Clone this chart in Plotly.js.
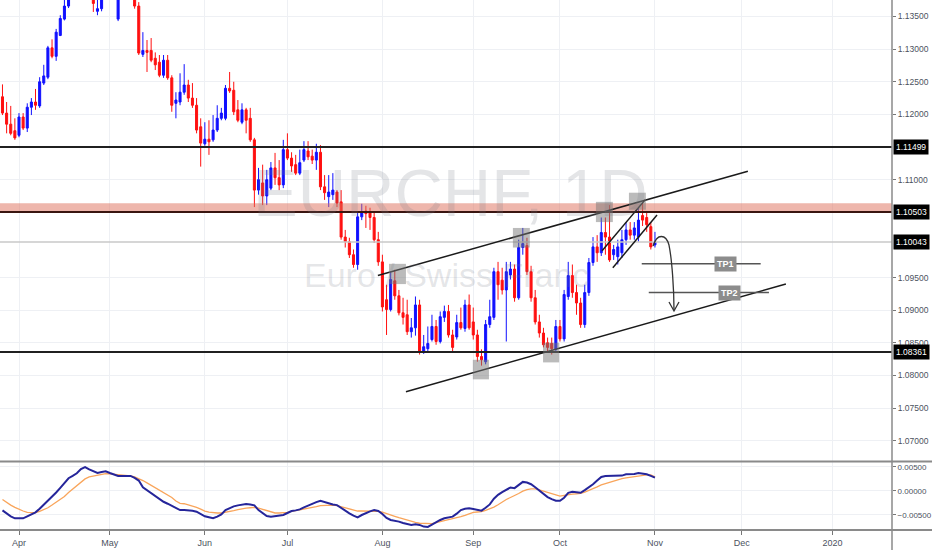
<!DOCTYPE html>
<html>
<head>
<meta charset="utf-8">
<script src="https://cdn.plot.ly/plotly-3.0.1.min.js"></script>
<style>
  html, body { margin: 0; padding: 0; background: #ffffff; }
  #chart { width: 932px; height: 550px; }
</style>
</head>
<body>
<div id="chart"></div>
<script>
// EURCHF daily candles, 26 Mar 2019 .. 1 Nov 2019
const firstDay = '2019-03-26';

const openPx = [
  1.1227, 1.1202, 1.1185, 1.1175, 1.1168, 1.1196, 1.1179, 1.1211, 1.1219, 1.1213,
  1.1248, 1.1257, 1.1302, 1.1289, 1.1321, 1.1346, 1.1366, 1.1390, 1.1415, 1.1440,
  1.1425, 1.1460, 1.1432, 1.1358, 1.1362, 1.1400, 1.1420, 1.1398, 1.1346, 1.1400,
  1.1390, 1.1405, 1.1395, 1.1366, 1.1292, 1.1298, 1.1298, 1.1286, 1.1280, 1.1260,
  1.1283, 1.1256, 1.1217, 1.1219, 1.1234, 1.1245, 1.1225, 1.1214, 1.1181, 1.1155,
  1.1162, 1.1161, 1.1176, 1.1194, 1.1194, 1.1240, 1.1237, 1.1207, 1.1188, 1.1207,
  1.1194, 1.1161, 1.1084, 1.1095, 1.1075, 1.1087, 1.1118, 1.1103, 1.1092, 1.1146,
  1.1133, 1.1123, 1.1110, 1.1130, 1.1144, 1.1136, 1.1130, 1.1142, 1.1089, 1.1074,
  1.1077, 1.1081, 1.1066, 1.1012, 1.1005, 1.0985, 1.0970, 1.1043, 1.1052, 1.1051,
  1.1042, 1.1008, 1.0974, 1.0916, 1.0901, 1.0945, 1.0922, 1.0896, 1.0893, 1.0867,
  1.0873, 1.0908, 1.0836, 1.0841, 1.0855, 1.0875, 1.0852, 1.0889, 1.0898, 1.0862,
  1.0859, 1.0881, 1.0872, 1.0908, 1.0882, 1.0862, 1.0829, 1.0821, 1.0878, 1.0889,
  1.0959, 1.0946, 1.0931, 1.0954, 1.0963, 1.0919, 1.0996, 1.0999, 1.0959, 1.0919,
  1.0882, 1.0865, 1.0850, 1.0849, 1.0840, 1.0875, 1.0856, 1.0921, 1.0953, 1.0927,
  1.0911, 1.0878, 1.0927, 1.0973, 1.0997, 1.0988, 1.1019, 1.1012, 1.0985, 1.0982,
  1.0988, 1.1008, 1.1023, 1.1015, 1.1012, 1.1045, 1.1042, 1.1028, 1.1000
];
const highPx = [
  1.1246, 1.1219, 1.1213, 1.1194, 1.1202, 1.1202, 1.1217, 1.1225, 1.1239, 1.1257,
  1.1276, 1.1305, 1.1315, 1.1331, 1.1352, 1.1378, 1.1405, 1.1422, 1.1450, 1.1455,
  1.1468, 1.1474, 1.1440, 1.1385, 1.1410, 1.1430, 1.1428, 1.1405, 1.1410, 1.1412,
  1.1415, 1.1418, 1.1408, 1.1372, 1.1326, 1.1314, 1.1317, 1.1295, 1.1291, 1.1291,
  1.1291, 1.1260, 1.1234, 1.1263, 1.1277, 1.1253, 1.1248, 1.1225, 1.1194, 1.1188,
  1.1191, 1.1199, 1.1214, 1.1210, 1.1245, 1.1265, 1.1250, 1.1222, 1.1217, 1.1210,
  1.1210, 1.1164, 1.1118, 1.1123, 1.1115, 1.1127, 1.1141, 1.1130, 1.1161, 1.1171,
  1.1142, 1.1138, 1.1146, 1.1159, 1.1159, 1.1146, 1.1155, 1.1153, 1.1107, 1.1107,
  1.1110, 1.1084, 1.1084, 1.1023, 1.1011, 1.0993, 1.1051, 1.1063, 1.1060, 1.1057,
  1.1051, 1.1020, 1.0985, 1.0939, 1.0959, 1.0962, 1.0931, 1.0919, 1.0916, 1.0888,
  1.0921, 1.0916, 1.0862, 1.0875, 1.0893, 1.0885, 1.0898, 1.0907, 1.0908, 1.0870,
  1.0893, 1.0904, 1.0916, 1.0924, 1.0904, 1.0870, 1.0840, 1.0885, 1.0916, 1.0965,
  1.0974, 1.0965, 1.0974, 1.0974, 1.0970, 1.1008, 1.1026, 1.1011, 1.0968, 1.0931,
  1.0893, 1.0873, 1.0858, 1.0858, 1.0885, 1.0885, 1.0931, 1.0974, 1.0970, 1.0939,
  1.0919, 1.0939, 1.0980, 1.1012, 1.1015, 1.1042, 1.1042, 1.1061, 1.1000, 1.1008,
  1.1023, 1.1035, 1.1035, 1.1035, 1.1057, 1.1064, 1.1051, 1.1035, 1.1020
];
const lowPx = [
  1.1199, 1.1171, 1.1168, 1.1161, 1.1165, 1.1176, 1.1173, 1.1199, 1.1207, 1.1210,
  1.1245, 1.1254, 1.1286, 1.1282, 1.1320, 1.1344, 1.1363, 1.1385, 1.1408, 1.1418,
  1.1420, 1.1425, 1.1357, 1.1352, 1.1358, 1.1392, 1.1390, 1.1376, 1.1343, 1.1383,
  1.1385, 1.1388, 1.1362, 1.1291, 1.1288, 1.1265, 1.1280, 1.1268, 1.1257, 1.1256,
  1.1253, 1.1204, 1.1194, 1.1214, 1.1230, 1.1219, 1.1210, 1.1171, 1.1120, 1.1152,
  1.1138, 1.1158, 1.1173, 1.1191, 1.1191, 1.1233, 1.1199, 1.1188, 1.1185, 1.1171,
  1.1158, 1.1058, 1.1077, 1.1061, 1.1061, 1.1084, 1.1092, 1.1084, 1.1087, 1.1130,
  1.1112, 1.1107, 1.1107, 1.1127, 1.1130, 1.1124, 1.1115, 1.1084, 1.1069, 1.1058,
  1.1069, 1.1058, 1.1008, 1.0996, 1.0980, 1.0965, 1.0962, 1.1038, 1.1026, 1.1023,
  1.1003, 1.0968, 1.0898, 1.0862, 1.0898, 1.0916, 1.0892, 1.0878, 1.0862, 1.0858,
  1.0861, 1.0832, 1.0833, 1.0836, 1.0852, 1.0847, 1.0849, 1.0882, 1.0858, 1.0836,
  1.0855, 1.0870, 1.0867, 1.0870, 1.0855, 1.0821, 1.0815, 1.0817, 1.0873, 1.0885,
  1.0916, 1.0924, 1.0852, 1.0947, 1.0913, 1.0916, 1.0985, 1.0954, 1.0913, 1.0878,
  1.0858, 1.0843, 1.0836, 1.0832, 1.0836, 1.0852, 1.0852, 1.0916, 1.0919, 1.0893,
  1.0873, 1.0873, 1.0922, 1.0968, 1.0974, 1.0983, 1.0985, 1.0974, 1.0977, 1.0970,
  1.0980, 1.1000, 1.1008, 1.1008, 1.1005, 1.1029, 1.1020, 1.0993, 1.0996
];
const closePx = [
  1.1202, 1.1185, 1.1171, 1.1164, 1.1196, 1.1179, 1.1211, 1.1219, 1.1214, 1.1250,
  1.1259, 1.1302, 1.1289, 1.1326, 1.1347, 1.1366, 1.1390, 1.1415, 1.1440, 1.1425,
  1.1460, 1.1432, 1.1370, 1.1362, 1.1400, 1.1420, 1.1398, 1.1380, 1.1400, 1.1390,
  1.1405, 1.1395, 1.1366, 1.1294, 1.1298, 1.1295, 1.1283, 1.1276, 1.1260, 1.1283,
  1.1256, 1.1214, 1.1222, 1.1234, 1.1245, 1.1225, 1.1214, 1.1176, 1.1156, 1.1162,
  1.1158, 1.1176, 1.1194, 1.1202, 1.1240, 1.1236, 1.1204, 1.1191, 1.1207, 1.1191,
  1.1161, 1.1084, 1.1100, 1.1075, 1.1100, 1.1118, 1.1103, 1.1092, 1.1146, 1.1133,
  1.1121, 1.1110, 1.1126, 1.1146, 1.1135, 1.1130, 1.1142, 1.1089, 1.1080, 1.1081,
  1.1084, 1.1064, 1.1012, 1.1005, 1.0985, 1.0970, 1.1043, 1.1051, 1.1048, 1.1042,
  1.1008, 1.0974, 1.0905, 1.0901, 1.0947, 1.0922, 1.0896, 1.0889, 1.0867, 1.0873,
  1.0908, 1.0836, 1.0844, 1.0849, 1.0875, 1.0852, 1.0890, 1.0898, 1.0862, 1.0843,
  1.0881, 1.0873, 1.0908, 1.0873, 1.0862, 1.0829, 1.0824, 1.0878, 1.0890, 1.0959,
  1.0939, 1.0931, 1.0959, 1.0963, 1.0919, 1.0996, 1.1002, 1.0959, 1.0919, 1.0882,
  1.0865, 1.0847, 1.0843, 1.0841, 1.0875, 1.0856, 1.0924, 1.0953, 1.0927, 1.0911,
  1.0878, 1.0927, 1.0973, 1.0997, 1.0988, 1.1019, 1.1012, 1.0977, 1.0993, 1.0997,
  1.1008, 1.1023, 1.1015, 1.1026, 1.1038, 1.1038, 1.1031, 1.0997, 1.10043
];

// MACD panel, one value per candle
const macdLine = [
  -0.00406, -0.00467, -0.00529, -0.00570, -0.00577, -0.00570, -0.00529, -0.00488, -0.00447, -0.00371,
  -0.00289, -0.00199, -0.00117, -0.00034, 0.00062, 0.00158, 0.00261, 0.00309, 0.00364, 0.00453,
  0.00494, 0.00446, 0.00405, 0.00371, 0.00391, 0.00405, 0.00371, 0.00343, 0.00309, 0.00309,
  0.00309, 0.00309, 0.00268, 0.00213, 0.00075, 0.00014, -0.00055, -0.00117, -0.00172, -0.00227,
  -0.00268, -0.00309, -0.00357, -0.00399, -0.00399, -0.00399, -0.00412, -0.00433, -0.00488, -0.00529,
  -0.00550, -0.00570, -0.00536, -0.00488, -0.00399, -0.00357, -0.00323, -0.00302, -0.00289, -0.00275,
  -0.00282, -0.00302, -0.00399, -0.00460, -0.00522, -0.00536, -0.00529, -0.00515, -0.00502, -0.00460,
  -0.00419, -0.00406, -0.00385, -0.00344, -0.00302, -0.00261, -0.00234, -0.00206, -0.00234, -0.00261,
  -0.00282, -0.00296, -0.00357, -0.00412, -0.00467, -0.00515, -0.00550, -0.00502, -0.00460, -0.00426,
  -0.00399, -0.00419, -0.00481, -0.00563, -0.00605, -0.00618, -0.00639, -0.00667, -0.00687, -0.00708,
  -0.00694, -0.00708, -0.00742, -0.00749, -0.00701, -0.00646, -0.00605, -0.00570, -0.00557, -0.00536,
  -0.00474, -0.00399, -0.00371, -0.00364, -0.00378, -0.00399, -0.00412, -0.00351, -0.00282, -0.00165,
  -0.00083, -0.00028, 0.00027, 0.00069, 0.00055, 0.00117, 0.00185, 0.00172, 0.00137, 0.00075,
  0.00007, -0.00062, -0.00131, -0.00172, -0.00206, -0.00206, -0.00144, -0.00041, -0.00021, -0.00028,
  -0.00041, 0.00014, 0.00069, 0.00137, 0.00213, 0.00288, 0.00309, 0.00309, 0.00309, 0.00309,
  0.00316, 0.00343, 0.00343, 0.00350, 0.00371, 0.00364, 0.00343, 0.00309, 0.00275
];
const signalLine = [
  -0.00179, -0.00241, -0.00296, -0.00344, -0.00385, -0.00419, -0.00447, -0.00454, -0.00454, -0.00426,
  -0.00392, -0.00351, -0.00296, -0.00241, -0.00186, -0.00117, -0.00034, 0.00034, 0.00110, 0.00178,
  0.00247, 0.00288, 0.00309, 0.00323, 0.00336, 0.00357, 0.00350, 0.00343, 0.00343, 0.00330,
  0.00323, 0.00309, 0.00288, 0.00254, 0.00213, 0.00165, 0.00117, 0.00062, 0.00014, -0.00034,
  -0.00089, -0.00138, -0.00213, -0.00261, -0.00268, -0.00289, -0.00316, -0.00344, -0.00378, -0.00419,
  -0.00440, -0.00454, -0.00460, -0.00460, -0.00447, -0.00426, -0.00412, -0.00392, -0.00371, -0.00357,
  -0.00351, -0.00344, -0.00357, -0.00385, -0.00419, -0.00440, -0.00460, -0.00460, -0.00454, -0.00447,
  -0.00426, -0.00412, -0.00399, -0.00385, -0.00371, -0.00351, -0.00330, -0.00309, -0.00302, -0.00296,
  -0.00296, -0.00309, -0.00330, -0.00351, -0.00371, -0.00399, -0.00419, -0.00419, -0.00419, -0.00419,
  -0.00419, -0.00426, -0.00440, -0.00474, -0.00502, -0.00529, -0.00557, -0.00584, -0.00605, -0.00625,
  -0.00653, -0.00673, -0.00680, -0.00687, -0.00680, -0.00660, -0.00639, -0.00625, -0.00605, -0.00591,
  -0.00563, -0.00536, -0.00509, -0.00474, -0.00447, -0.00440, -0.00433, -0.00406, -0.00378, -0.00337,
  -0.00289, -0.00227, -0.00179, -0.00138, -0.00103, -0.00055, -0.00007, 0.00027, 0.00041, 0.00041,
  0.00020, -0.00007, -0.00034, -0.00069, -0.00089, -0.00110, -0.00096, -0.00076, -0.00069, -0.00062,
  -0.00055, -0.00028, 0.00007, 0.00034, 0.00082, 0.00124, 0.00151, 0.00185, 0.00213, 0.00233,
  0.00254, 0.00268, 0.00282, 0.00295, 0.00309, 0.00323, 0.00330, 0.00330, 0.00288
];

const monthTicks = ['2019-04-01', '2019-05-01', '2019-06-03', '2019-07-01', '2019-08-01',
                    '2019-09-02', '2019-10-01', '2019-11-01', '2019-12-02', '2020-01-01'];
const monthLabels = ['Apr', 'May', 'Jun', 'Jul', 'Aug', 'Sep', 'Oct', 'Nov', 'Dec', '2020'];
const priceTicks = [1.07, 1.075, 1.08, 1.085, 1.09, 1.095, 1.11, 1.12, 1.125, 1.13, 1.135];
const macdTicks = [-0.005, 0, 0.005];

// levels drawn on the chart
const levelLines = [1.11499, 1.10503, 1.08361];
const lastPrice = 1.10043;
const tagLevels = [1.11499, 1.10503, 1.10043, 1.08361];
const tagTexts = ['1.11499', '1.10503', '1.10043', '1.08361'];

// weekdays only, like the forex feed
function tradingDays(start, n) {
    const out = [];
    const d = new Date(start + 'T00:00:00Z');
    while (out.length < n) {
        const wd = d.getUTCDay();
        if (wd !== 0 && wd !== 6) out.push(d.toISOString().slice(0, 10));
        d.setUTCDate(d.getUTCDate() + 1);
    }
    return out;
}
const dates = tradingDays(firstDay, closePx.length);

const axisFont = { family: 'Liberation Sans, Arial, sans-serif', size: 8.5, color: '#4c525e' };
const gridCol = '#eef0f4';

const traces = [
    {
        type: 'candlestick', x: dates, open: openPx, high: highPx, low: lowPx, close: closePx,
        xaxis: 'x', yaxis: 'y', whiskerwidth: 0,
        increasing: { line: { color: '#1010ff', width: 1 }, fillcolor: '#1010ff' },
        decreasing: { line: { color: '#ff1010', width: 1 }, fillcolor: '#ff1010' },
        hoverinfo: 'skip'
    },
    {
        type: 'scatter', mode: 'lines', x: dates, y: signalLine, xaxis: 'x', yaxis: 'y2',
        line: { color: '#f9a55b', width: 1.3 }, hoverinfo: 'skip'
    },
    {
        type: 'scatter', mode: 'lines', x: dates, y: macdLine, xaxis: 'x', yaxis: 'y2',
        line: { color: '#25259a', width: 2 }, hoverinfo: 'skip'
    }
];

const shapes = [];
// resistance band
shapes.push({ type: 'rect', xref: 'paper', yref: 'y', x0: 0, x1: 1, y0: 1.10503, y1: 1.1064,
    fillcolor: 'rgba(222,110,90,0.5)', line: { width: 0 } });
// last price line
shapes.push({ type: 'line', xref: 'paper', yref: 'y', x0: 0, x1: 1, y0: lastPrice, y1: lastPrice,
    line: { color: '#c9c9c9', width: 1.5 } });
levelLines.forEach(v => {
    shapes.push({ type: 'line', xref: 'paper', yref: 'y', x0: 0, x1: 1, y0: v, y1: v,
        line: { color: v === 1.10503 ? '#3a1510' : '#202020', width: 2 } });
});

// channel and wedge lines
const trend = [
    ['2019-07-30 21:36', 1.0953, '2019-12-03 12:00', 1.1113],
    ['2019-08-08 16:48', 1.0775, '2019-12-16 16:48', 1.0940],
    ['2019-10-15 04:48', 1.0991, '2019-10-29 14:24', 1.1069],
    ['2019-10-17 19:12', 1.0965, '2019-11-01 12:00', 1.1046]
];
trend.forEach(t => {
    shapes.push({ type: 'line', xref: 'x', yref: 'y', x0: t[0], y0: t[1], x1: t[2], y1: t[3],
        line: { color: '#1a1a1a', width: 1.5 } });
});

// take profit levels
shapes.push({ type: 'line', xref: 'x', yref: 'y', x0: '2019-10-28 19:12', x1: '2019-12-06 14:24',
    y0: 1.0971, y1: 1.0971, line: { color: '#555555', width: 1.5 } });
shapes.push({ type: 'line', xref: 'x', yref: 'y', x0: '2019-10-30 12:00', x1: '2019-12-10 14:24',
    y0: 1.0927, y1: 1.0927, line: { color: '#555555', width: 1.5 } });

// highlighted touches
const boxes = [
    ['2019-08-02 14:24', '2019-08-08 16:48', 1.0940, 1.0971],
    ['2019-09-13 14:24', '2019-09-19 16:48', 1.0996, 1.1026],
    ['2019-08-30 21:36', '2019-09-05 19:12', 1.0794, 1.0824],
    ['2019-09-24 21:36', '2019-09-30 19:12', 1.0820, 1.0850],
    ['2019-10-11 16:48', '2019-10-17 19:12', 1.1035, 1.1066],
    ['2019-10-23 16:48', '2019-10-29 19:12', 1.1054, 1.1080]
];
boxes.forEach(b => {
    shapes.push({ type: 'rect', xref: 'x', yref: 'y', x0: b[0], x1: b[1], y0: b[2], y1: b[3],
        fillcolor: 'rgba(120,120,120,0.5)', line: { width: 0 } });
});

// curved arrow towards the lower channel line
shapes.push({ type: 'path', xref: 'paper', yref: 'paper',
    path: 'M 0.7321 0.5358 C 0.7366 0.5604, 0.7466 0.5585, 0.7500 0.5377 C 0.7534 0.5094, 0.7556 0.4528, 0.7556 0.4151',
    line: { color: '#333333', width: 1.3 } });
shapes.push({ type: 'path', xref: 'paper', yref: 'paper',
    path: 'M 0.7500 0.4302 L 0.7556 0.4132 L 0.7612 0.4302',
    line: { color: '#333333', width: 1.3 } });

// pane borders
shapes.push({ type: 'line', xref: 'paper', yref: 'paper', x0: 0, x1: 1.045, y0: 0.1292, y1: 0.1292,
    line: { color: '#8a8a8a', width: 2 } });
shapes.push({ type: 'line', xref: 'paper', yref: 'paper', x0: 0, x1: 1.045, y0: 0, y1: 0,
    line: { color: '#8a8a8a', width: 2 } });
shapes.push({ type: 'line', xref: 'paper', yref: 'paper', x0: 1, x1: 1, y0: -0.04, y1: 1,
    line: { color: '#8a8a8a', width: 1.5 } });

const annotations = [
    { xref: 'paper', yref: 'paper', x: 0.505, y: 0.636, xanchor: 'center', yanchor: 'middle',
      text: 'EURCHF, 1D', showarrow: false,
      font: { family: 'Liberation Sans, Arial', size: 67, color: 'rgba(120,123,134,0.2)' } },
    { xref: 'paper', yref: 'paper', x: 0.5, y: 0.481, xanchor: 'center', yanchor: 'middle',
      text: 'Euro / Swiss Franc', showarrow: false,
      font: { family: 'Liberation Sans, Arial', size: 34, color: 'rgba(120,123,134,0.2)' } },
    { xref: 'x', yref: 'y', x: '2019-11-26', y: 1.0971, text: '<b>TP1</b>', showarrow: false,
      bgcolor: '#8c8c8c', borderpad: 2, font: { family: 'Liberation Sans, Arial', size: 9, color: '#ffffff' } },
    { xref: 'x', yref: 'y', x: '2019-11-27', y: 1.0927, text: '<b>TP2</b>', showarrow: false,
      bgcolor: '#8c8c8c', borderpad: 2, font: { family: 'Liberation Sans, Arial', size: 9, color: '#ffffff' } }
];
tagLevels.forEach((v, k) => {
    annotations.push({ xref: 'paper', yref: 'y', x: 1, y: v, xanchor: 'left', yanchor: 'middle', xshift: 1,
        text: tagTexts[k], showarrow: false, bgcolor: '#000000', borderpad: 2,
        font: { family: 'Liberation Sans, Arial', size: 8.5, color: '#ffffff' } });
});

const layout = {
    width: 932, height: 550,
    margin: { l: 0, r: 40, t: 0, b: 20 },
    paper_bgcolor: '#ffffff', plot_bgcolor: '#ffffff',
    showlegend: false,
    xaxis: {
        type: 'date', anchor: 'y2',
        range: ['2019-03-25 09:36', '2020-01-21 09:36'],
        rangebreaks: [{ bounds: ['sat', 'mon'] }],
        rangeslider: { visible: false },
        tickmode: 'array', tickvals: monthTicks, ticktext: monthLabels,
        ticks: 'outside', ticklen: 4, tickcolor: '#777777',
        showgrid: true, gridcolor: gridCol, zeroline: false, showline: false,
        tickfont: { family: 'Liberation Sans, Arial, sans-serif', size: 9, color: '#4c525e' }
    },
    yaxis: {
        domain: [0.1302, 1], anchor: 'x', side: 'right',
        range: [1.06689, 1.13753],
        tickmode: 'array', tickvals: priceTicks, tickformat: '.5f',
        ticks: 'outside', ticklen: 3, tickcolor: '#777777',
        showgrid: true, gridcolor: gridCol, zeroline: false, showline: false,
        tickfont: axisFont
    },
    yaxis2: {
        domain: [0, 0.1283], anchor: 'x', side: 'right',
        range: [-0.00813, 0.00598],
        tickmode: 'array', tickvals: macdTicks, tickformat: '.5f',
        ticks: 'outside', ticklen: 3, tickcolor: '#777777',
        showgrid: true, gridcolor: gridCol, zeroline: false, showline: false,
        tickfont: { family: 'Liberation Sans, Arial, sans-serif', size: 8, color: '#4c525e' }
    },
    shapes: shapes,
    annotations: annotations
};

Plotly.newPlot('chart', traces, layout, { staticPlot: true, displayModeBar: false });
</script>
</body>
</html>
